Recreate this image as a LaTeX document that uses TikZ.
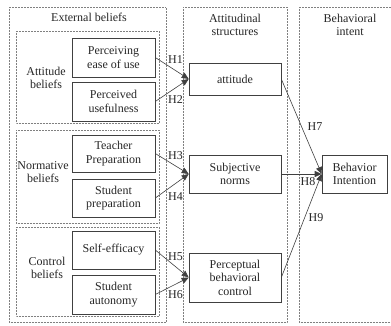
\documentclass[tikz,border=0pt]{standalone}
\usepackage{fontspec}
\setmainfont{Liberation Serif}
\usetikzlibrary{arrows.meta}
\begin{document}
\begin{tikzpicture}[x=1pt,y=-1pt,
  font=\fontsize{12}{13.5}\selectfont,
  every node/.style={text=black!85},
  dotbox/.style={draw=black!50, densely dotted, line width=0.5pt},
  solidbox/.style={draw=black!75, line width=0.6pt, align=center, inner sep=0pt},
  conn/.style={draw=black!75, line width=0.6pt, -{Triangle[width=6pt,length=7pt]}},
  hlab/.style={font=\fontsize{12}{13}\selectfont, inner sep=0pt}]
\useasboundingbox (0,0) rectangle (391,325);
% outer dotted boxes
\draw[dotbox] (9,7) rectangle (166,322);
\draw[dotbox] (183,7) rectangle (287,322);
\draw[dotbox] (299,7) rectangle (395,322);
% inner dotted boxes
\draw[dotbox] (16,31) rectangle (159,123);
\draw[dotbox] (16,130) rectangle (159,223);
\draw[dotbox] (16,227) rectangle (159,316);
% headings
\node[align=center] (hext) at (89,17) {External beliefs};
\node[align=center] (hatt) at (235,25) {Attitudinal\\structures};
\node[align=center] (hbeh) at (350,25) {Behavioral\\intent};
\node[align=center] (gatt) at (46,78) {Attitude\\beliefs};
\node[align=center] (gnor) at (43,172) {Normative\\beliefs};
\node[align=center] (gcon) at (47,268) {Control\\beliefs};
% left boxes
\node[solidbox, minimum width=83pt, minimum height=39pt] (peou) at (113.5,57.5) {Perceiving\\ease of use};
\node[solidbox, minimum width=83pt, minimum height=39pt] (pu) at (113.5,101.5) {Perceived\\usefulness};
\node[solidbox, minimum width=83pt, minimum height=37pt] (tp) at (113.5,153.5) {Teacher\\Preparation};
\node[solidbox, minimum width=83pt, minimum height=38pt] (sp) at (113.5,198) {Student\\preparation};
\node[solidbox, minimum width=83pt, minimum height=38pt] (se) at (113.5,250) {Self-efficacy};
\node[solidbox, minimum width=83pt, minimum height=39pt] (sa) at (113.5,294.5) {Student\\autonomy};
% middle boxes
\node[solidbox, minimum width=92pt, minimum height=32pt] (att) at (235,79) {attitude};
\node[solidbox, minimum width=92pt, minimum height=38pt] (sn) at (235,174) {Subjective\\norms};
\node[solidbox, minimum width=92pt, minimum height=49pt] (pbc) at (235,277.5) {Perceptual\\behavioral\\control};
% right box
\node[solidbox, minimum width=65pt, minimum height=38pt] (bi) at (354.5,174) {Behavior\\Intention};
% connectors
\draw[conn] (peou.east) -- (att.west);
\draw[conn] (pu.east) -- (att.west);
\draw[conn] (tp.east) -- (sn.west);
\draw[conn] (sp.east) -- (sn.west);
\draw[conn] (se.east) -- (pbc.west);
\draw[conn] (sa.east) -- (pbc.west);
\draw[conn] (att.east) -- (bi.west);
\draw[conn] (sn.east) -- (bi.west);
\draw[conn] (pbc.east) -- (bi.west);
% labels
\node[hlab] (h1) at (175.5,60) {H1};
\node[hlab] (h2) at (175.5,99.5) {H2};
\node[hlab] (h3) at (175.5,156) {H3};
\node[hlab] (h4) at (175.5,197) {H4};
\node[hlab] (h5) at (175.5,257) {H5};
\node[hlab] (h6) at (175.5,295) {H6};
\node[hlab] (h7) at (315,127) {H7};
\node[hlab] (h8) at (308,182) {H8};
\node[hlab] (h9) at (316,218) {H9};
\end{tikzpicture}
\end{document}
